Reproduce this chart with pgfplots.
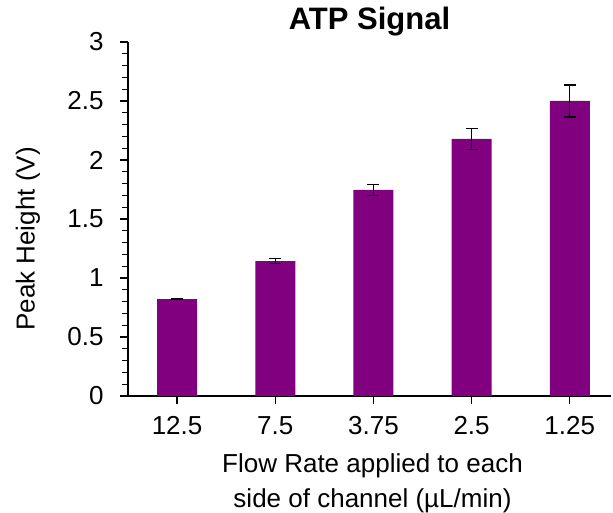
\documentclass[border=0pt]{standalone}
\usepackage{fontspec}
\setmainfont{Liberation Sans}
\usepackage{pgfplots}
\pgfplotsset{compat=1.18}
\definecolor{barpurple}{RGB}{128,0,128}
\begin{document}
\begin{tikzpicture}[x=1pt,y=1pt]
\path[use as bounding box] (-128,-117) rectangle (485,396);
\begin{axis}[
  at={(0,0)}, anchor=south west,
  scale only axis, width=483pt, height=354pt,
  xmin=-0.5, xmax=4.42, ymin=0, ymax=3,
  axis x line*=bottom, axis y line*=left,
  axis line style={line width=1.4pt, black},
  ybar, bar width=40pt,
  xtick={0,1,2,3,4}, xticklabels={12.5,7.5,3.75,2.5,1.25},
  ytick={0,0.5,1,1.5,2,2.5,3}, yticklabels={0,0.5,1,1.5,2,2.5,3},
  minor y tick num=4,
  tick align=outside,
  tick style={black, line width=1.2pt},
  major tick length=8pt, minor tick length=6pt,
  tick label style={font=\fontsize{26}{26}\selectfont},
  xticklabel style={yshift=-9pt},
  yticklabel style={xshift=-13pt},
  title={ATP Signal},
  title style={font=\fontsize{31}{31}\selectfont\bfseries, at={(axis description cs:0.5,1)}, anchor=base, yshift=6pt},
  ylabel={Peak Height (V)},
  ylabel style={font=\fontsize{26}{26}\selectfont, at={(axis description cs:-0.207,0.4435)}, anchor=center},
  xlabel={Flow Rate applied to each\\side of channel (µL/min)},
  xlabel style={font=\fontsize{26}{35}\selectfont, align=center, at={(axis description cs:0.5,0)}, anchor=north, inner sep=0pt, yshift=-57pt, xshift=3pt},
]
\addplot[fill=barpurple, draw=none,
  error bars/.cd, y dir=both, y explicit,
  error bar style={black, line width=1.2pt},
  error mark options={black, rotate=90, mark size=6pt, line width=1.2pt}]
  table[x=x, y=y, y error=e] {
x y e
0 0.822 0.005
1 1.144 0.018
2 1.746 0.044
3 2.178 0.090
4 2.500 0.136
};
\end{axis}
\end{tikzpicture}
\end{document}
